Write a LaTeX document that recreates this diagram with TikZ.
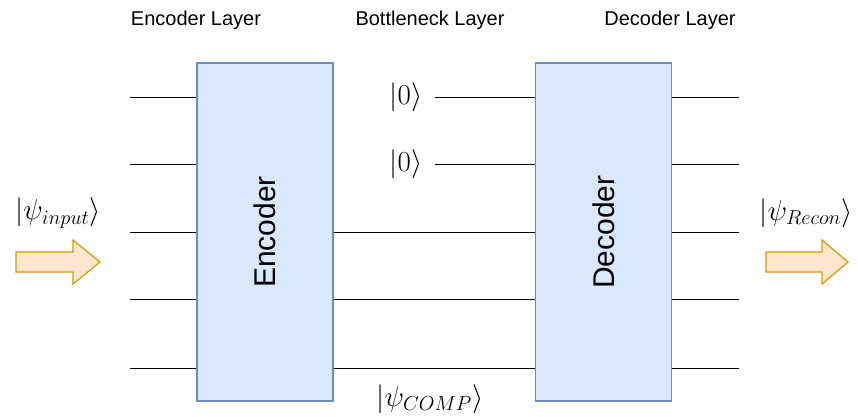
\documentclass[tikz,border=0pt]{standalone}
\usepackage{fix-cm}
\usepackage{fontspec}
\setsansfont{Liberation Sans}
\begin{document}
\begin{tikzpicture}[x=1pt,y=-1pt,
  block/.style={draw=blockline,fill=blockfill,line width=1.2pt,minimum width=136pt,minimum height=338pt,inner sep=0pt},
  wire/.style={draw=black,line width=1pt},
  layertitle/.style={font=\sffamily\fontsize{20}{24}\selectfont,inner sep=0pt},
  blocktext/.style={font=\sffamily\fontsize{30}{36}\selectfont,rotate=90,inner sep=0pt},
  ket/.style={font=\fontsize{29}{34}\selectfont,inner sep=0pt},
  flow/.style={draw=flowline,fill=flowfill,line width=1.2pt,line join=miter}]
\definecolor{blockfill}{HTML}{DAE8FC}
\definecolor{blockline}{HTML}{6C8EBF}
\definecolor{flowfill}{HTML}{FFE6CC}
\definecolor{flowline}{HTML}{D79B00}
\useasboundingbox (0,0) rectangle (858,416);

% layer titles
\node[layertitle] (tenc) at (196,20) {Encoder Layer};
\node[layertitle] (tbot) at (430,20) {Bottleneck Layer};
\node[layertitle] (tdec) at (670,20) {Decoder Layer};

% encoder and decoder blocks
\node[block] (enc) at (265,232) {};
\node[block] (dec) at (603.5,232) {};
\node[blocktext] (encl) at (enc.center) {Encoder};
\node[blocktext] (decl) at (dec.center) {Decoder};

% input and output wires
\foreach \i/\y in {1/97,2/164,3/232,4/299,5/368}{
  \coordinate (in\i) at (130,\y);
  \coordinate (ei\i) at (enc.west |- 0,\y);
  \draw[wire] (in\i) -- (ei\i);
  \coordinate (do\i) at (dec.east |- 0,\y);
  \coordinate (out\i) at (739,\y);
  \draw[wire] (do\i) -- (out\i);
}

% compressed wires between the blocks
\foreach \i/\y in {3/232,4/299,5/368}{
  \coordinate (eo\i) at (enc.east |- 0,\y);
  \coordinate (di\i) at (dec.west |- 0,\y);
  \draw[wire] (eo\i) -- (di\i);
}

% fresh ancilla qubits
\node[ket] (z1) at (406,97) {$|0\rangle$};
\node[ket] (z2) at (406,164) {$|0\rangle$};
\coordinate (zs1) at (435,97);
\coordinate (zs2) at (435,164);
\coordinate (dz1) at (dec.west |- 0,97);
\coordinate (dz2) at (dec.west |- 0,164);
\draw[wire] (zs1) -- (dz1);
\draw[wire] (zs2) -- (dz2);

% state labels
\node[ket] (kin) at (58,213) {$|\psi_{input}\rangle$};
\node[ket] (krec) at (806,213) {$|\psi_{Recon}\rangle$};
\node[ket] (kcomp) at (430,399) {$|\psi_{COMP}\rangle$};

% flow arrows
\draw[flow] (16,252) -- (73,252) -- (73,240) -- (100,262) -- (73,284) -- (73,272) -- (16,272) -- cycle;
\draw[flow] (766,252) -- (822,252) -- (822,240) -- (848,262) -- (822,284) -- (822,272) -- (766,272) -- cycle;
\end{tikzpicture}
\end{document}
